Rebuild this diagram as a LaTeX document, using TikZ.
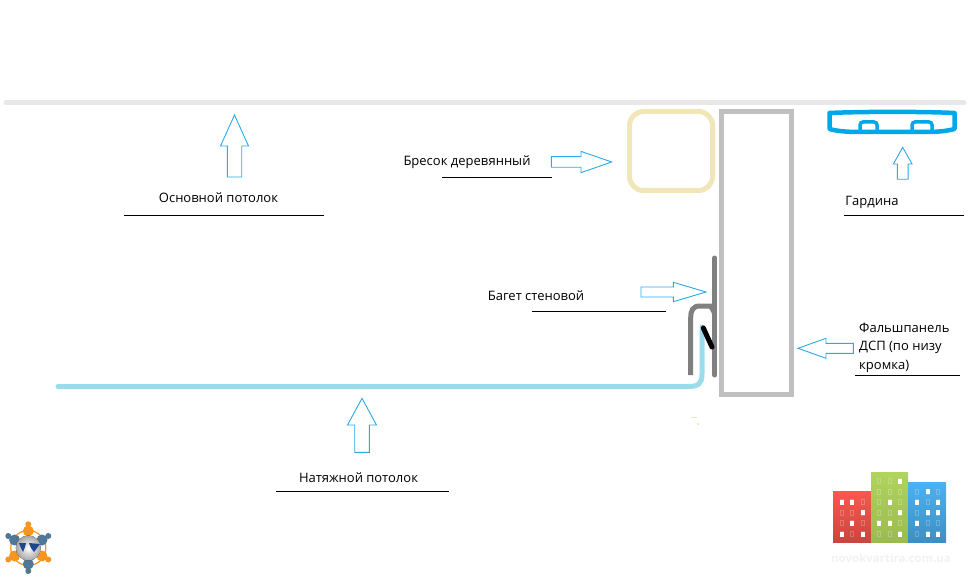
\documentclass[tikz,border=0pt]{standalone}
\usepackage{fontspec}
\setmainfont{Open Sans}
\usepackage{tikz}
\definecolor{ceilgray}{RGB}{232,232,232}
\definecolor{beamyellow}{RGB}{240,230,184}
\definecolor{panelgray}{RGB}{192,192,192}
\definecolor{curtainblue}{RGB}{0,168,232}
\definecolor{profilegray}{RGB}{128,128,128}
\definecolor{filmblue}{RGB}{155,220,236}
\definecolor{arrowblue}{RGB}{40,170,235}
\definecolor{logored}{RGB}{250,88,78}
\definecolor{logogreen}{RGB}{176,212,92}
\definecolor{logoblue}{RGB}{76,178,242}
\definecolor{logoorange}{RGB}{245,150,30}
\definecolor{logoslate}{RGB}{80,120,150}
\definecolor{logomap}{RGB}{30,70,140}
\tikzstyle{hollowarrow} = [draw=arrowblue, fill=white, line width=0.9pt, line join=miter]
\tikzstyle{callout} = [font=\fontsize{13}{18.5}\selectfont, inner sep=0pt, text=black]
\tikzstyle{underline} = [line width=1pt, color=black]
\tikzstyle{litwindow} = [fill=white]
\tikzstyle{dimwindow} = [draw=white, draw opacity=0.22, line width=0.8pt]
% tip x, tip y, direction, length, head length, head width, shaft width
\newcommand{\blockarrow}[7]{
    \draw[hollowarrow, shift={(#1, #2)}, rotate=#3] (0, 0) -- (-#5, #6/2) -- (-#5, #7/2) -- (-#4, #7/2)
        -- (-#4, -#7/2) -- (-#5, -#7/2) -- (-#5, -#6/2) -- cycle;
}
\begin{document}
\begin{tikzpicture}[x=1pt, y=-1pt]
    \useasboundingbox (0, 0) rectangle (969, 580);

    % Main ceiling
    \draw[ceilgray, line width=5pt, line cap=round] (6, 103) -- (964, 103);

    % Beam and false panel
    \draw[beamyellow, line width=5pt, rounded corners=14pt] (629.5, 111.5) rectangle (712.5, 190.5);
    \draw[panelgray, line width=5pt] (721.5, 111.5) rectangle (791.5, 394);

    % Curtain rail
    \draw[curtainblue, line width=4.5pt, line join=round]
        (829.5, 113) .. controls (860, 111.5) and (925, 111.5) .. (954.5, 113)
        -- (954.5, 129) .. controls (945, 131.5) and (935, 132) .. (925, 132)
        -- (860, 132) .. controls (850, 132) and (838, 131.5) .. (829.5, 129) -- cycle;
    \draw[curtainblue, line width=3.5pt, rounded corners=3pt] (860, 132) -- (860, 122) -- (877, 122) -- (877, 132);
    \draw[curtainblue, line width=3.5pt, rounded corners=3pt] (912, 132) -- (912, 122) -- (932, 122) -- (932, 132);

    % Stretch film
    \draw[filmblue, line width=5pt, line cap=round] (58, 386.5) -- (688, 386.5)
        .. controls (698, 386.5) and (702, 384) .. (702, 374) -- (702, 327);

    % Wall profile
    \draw[profilegray, line width=5pt, line cap=round] (714.7, 258) -- (714.7, 375);
    \draw[profilegray, line width=5pt] (690.7, 375) -- (690.7, 318)
        .. controls (690.7, 310) and (693, 306) .. (700, 306) -- (714.7, 306);
    \draw[profilegray, line width=3pt] (708, 306) .. controls (712, 308) and (714, 313) .. (714.7, 320);
    \draw[black, line width=5pt, line cap=round] (703.3, 328) -- (712, 347);

    % Specks
    \draw[beamyellow, line width=1pt] (691, 417) -- (697, 417);
    \draw[beamyellow, line width=2pt] (697, 424) -- (699, 424);

    % Arrows
    \blockarrow{234.5}{115}{90}{62}{31}{28}{14.4}
    \blockarrow{611.7}{162}{0}{60.4}{30.7}{21.3}{10.6}
    \blockarrow{902.7}{147.3}{90}{32}{16.7}{18.7}{10.7}
    \blockarrow{706}{292}{0}{65}{32.7}{19.4}{10}
    \blockarrow{798}{348.3}{180}{55.3}{28}{20}{10}
    \blockarrow{362}{398.3}{90}{54}{26.7}{29}{14.6}

    % Labels
    \node[callout] (ceillabel) at (218.5, 198) {Основной потолок};
    \node[callout] (beamlabel) at (467, 162) {Бресок деревянный};
    \node[callout] (curtainlabel) at (872, 202) {Гардина};
    \node[callout] (profilelabel) at (536, 296) {Багет стеновой};
    \node[callout, align=left, anchor=north west] (panellabel) at (859, 322.5) {Фальшпанель\\ДСП (по низу\\кромка)};
    \node[callout] (filmlabel) at (358.5, 478) {Натяжной потолок};

    % Underlines
    \draw[underline] (124, 216) -- (324, 216);
    \draw[underline] (442, 178) -- (552, 178);
    \draw[underline] (844, 216) -- (964, 216);
    \draw[underline] (532, 311.5) -- (666, 311.5);
    \draw[underline] (855, 375) -- (960, 375);
    \draw[underline] (276, 491.5) -- (449, 491.5);

    % Building logo
    \fill[top color=logored, bottom color=logored!80!black] (833, 491) rectangle (871, 542);
    \fill[top color=logogreen, bottom color=logogreen!88!black] (871, 472) rectangle (908, 542);
    \fill[top color=logoblue, bottom color=logoblue!80!black] (908, 482) rectangle (946, 542);
    \foreach \wx in {841.7, 852, 862.7} \foreach \wy in {502, 512.7, 523.3, 534}
        \draw[dimwindow] (\wx-1.5, \wy-2.5) rectangle (\wx+1.5, \wy+2.5);
    \foreach \wx in {879.3, 889.7, 900.3} \foreach \wy in {481.3, 491.7, 502.3, 512.7, 523.3, 534}
        \draw[dimwindow] (\wx-1.5, \wy-2.5) rectangle (\wx+1.5, \wy+2.5);
    \foreach \wx in {917, 927.7, 938} \foreach \wy in {491.7, 502.3, 512.7, 523.3, 534}
        \draw[dimwindow] (\wx-1.5, \wy-2.5) rectangle (\wx+1.5, \wy+2.5);
    \foreach \wx/\wy in {841.7/502, 852/502, 862.7/512.7, 852/523.3, 841.7/534, 862.7/534,
        900.3/481.3, 889.7/502.3, 900.3/512.7, 879.3/523.3, 889.7/523.3, 900.3/534,
        927.7/491.7, 917/502.3, 938/502.3, 927.7/512.7, 938/512.7, 917/523.3, 927.7/534, 938/534}
        \fill[litwindow] (\wx-2, \wy-2.5) rectangle (\wx+2, \wy+2.5);
    \node[font=\fontsize{11.5}{12}\selectfont\bfseries, text=black!5, inner sep=0pt] (logotext) at (891, 558.5) {novokvartira.com.ua};

    % Globe logo
    \draw[logoorange, line width=1.2pt] (28.3, 548) circle (17.5pt);
    \foreach \hx/\hy/\hc in {28.3/524.3/logoorange, 48.3/536/logoslate, 48.3/559.5/logoorange, 28.3/571/logoslate, 8.3/559.5/logoorange, 8.3/536/logoslate}
        \fill[\hc] (\hx, \hy) circle (3pt);
    \foreach \bx/\by/\bc in {28.3/531/logoorange, 42/540/logoslate, 42/556/logoorange, 28.3/564/logoslate, 14.6/556/logoorange, 14.6/540/logoslate}
        \fill[\bc] (\bx, \by) circle (5.5pt);
    \fill[inner color=white, outer color=black!35] (28.3, 548) circle (12.5pt);
    \fill[logomap] (19, 543) -- (26, 543) -- (25, 547) -- (23, 552) -- (21, 548) -- cycle;
    \fill[logomap] (29, 543) -- (40, 544) -- (37, 548) -- (34, 552) -- (31, 548) -- cycle;
\end{tikzpicture}
\end{document}
